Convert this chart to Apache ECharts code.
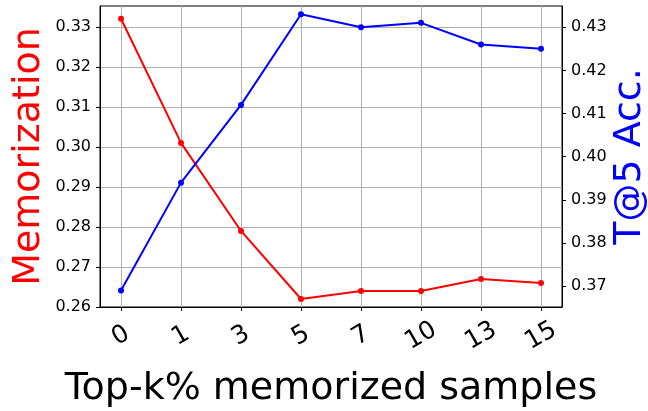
<!DOCTYPE html>
<html>
<head>
<meta charset="utf-8">
<script src="https://cdn.jsdelivr.net/npm/echarts@6/dist/echarts.min.js"></script>
<style>
html,body{margin:0;padding:0;background:#fff;}
#chart{width:648px;height:411px;}
</style>
</head>
<body>
<div id="chart"></div>
<script>
const categories = ['0', '1', '3', '5', '7', '10', '13', '15'];
const memorization = [0.332, 0.301, 0.279, 0.262, 0.264, 0.264, 0.267, 0.266];
const accuracy = [0.369, 0.394, 0.412, 0.433, 0.430, 0.431, 0.426, 0.425];
const leftTicks = [0.26, 0.27, 0.28, 0.29, 0.30, 0.31, 0.32, 0.33];
const rightTicks = [0.37, 0.38, 0.39, 0.40, 0.41, 0.42, 0.43];

const FONT = 'DejaVu Sans';
const xIdx = categories.map((c, i) => i);

const chart = echarts.init(document.getElementById('chart'), null, {renderer: 'canvas'});
chart.setOption({
  animation: false,
  backgroundColor: '#fff',
  grid: {left: 100, right: 86, top: 6, bottom: 104, containLabel: false, outerBoundsMode: 'none',
    show: true, borderColor: '#000', borderWidth: 1, backgroundColor: 'transparent'},
  xAxis: {
    type: 'value', min: -0.35, max: 7.35,
    name: 'Top-k% memorized samples', nameLocation: 'middle', nameGap: 63,
    nameTextStyle: {fontFamily: FONT, fontSize: 38, color: '#000'},
    axisLine: {show: true, onZero: false, lineStyle: {color: '#000', width: 1}},
    axisTick: {show: true, length: 4, customValues: xIdx, lineStyle: {color: '#000'}},
    axisLabel: {customValues: xIdx, rotate: 30, align: 'center', verticalAlign: 'middle', margin: 29,
      fontFamily: FONT, fontSize: 25, color: '#000',
      formatter: v => categories[Math.round(v)]},
    splitLine: {show: true, lineStyle: {color: '#b0b0b0', width: 1}}
  },
  yAxis: [{
    type: 'value', min: 0.26, max: 0.3352, position: 'left',
    name: 'Memorization', nameLocation: 'middle', nameRotate: 90, nameGap: 52, nameMoveOverlap: false,
    nameTextStyle: {fontFamily: FONT, fontSize: 38, color: '#ff0000'},
    axisLine: {show: true, onZero: false, lineStyle: {color: '#000', width: 1}},
    axisTick: {show: true, length: 4, customValues: leftTicks, lineStyle: {color: '#000'}},
    axisLabel: {customValues: leftTicks, margin: 9, fontFamily: FONT, fontSize: 16, color: '#000',
      formatter: v => v.toFixed(2)},
    splitLine: {show: true, lineStyle: {color: '#b0b0b0', width: 1}}
  }, {
    type: 'value', min: 0.3652, max: 0.4349, position: 'right',
    name: 'T@5 Acc.', nameLocation: 'middle', nameRotate: 90, nameGap: 49, nameMoveOverlap: false,
    nameTextStyle: {fontFamily: FONT, fontSize: 38, color: '#0000ff'},
    axisLine: {show: true, onZero: false, lineStyle: {color: '#000', width: 1}},
    axisTick: {show: true, length: 4, customValues: rightTicks, lineStyle: {color: '#000'}},
    axisLabel: {customValues: rightTicks, margin: 9, fontFamily: FONT, fontSize: 16, color: '#000',
      formatter: v => v.toFixed(2)},
    splitLine: {show: false}
  }],
  series: [{
    type: 'line', name: 'Memorization', yAxisIndex: 0,
    data: memorization.map((v, i) => [i, v]),
    symbol: 'circle', symbolSize: 6,
    lineStyle: {color: '#ff0000', width: 2},
    itemStyle: {color: '#ff0000'}
  }, {
    type: 'line', name: 'T@5 Acc.', yAxisIndex: 1,
    data: accuracy.map((v, i) => [i, v]),
    symbol: 'circle', symbolSize: 6,
    lineStyle: {color: '#0000ff', width: 2},
    itemStyle: {color: '#0000ff'}
  }]
});
</script>
</body>
</html>
